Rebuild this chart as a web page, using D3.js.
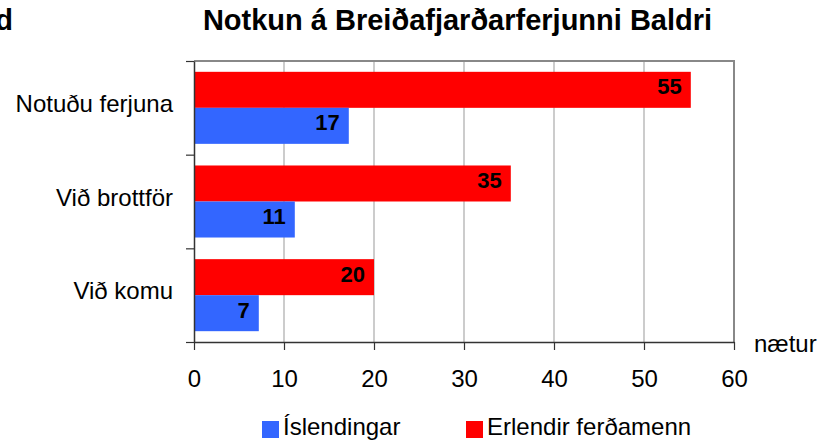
<!DOCTYPE html>
<html>
<head>
<meta charset="utf-8">
<script src="https://cdn.jsdelivr.net/npm/d3@7/dist/d3.min.js"></script>
<style>
  html, body { margin: 0; padding: 0; background: #fff; }
  svg { display: block; }
  text { font-family: "Liberation Sans", Arial, sans-serif; fill: #000; }
</style>
</head>
<body>
<svg id="chart" width="819" height="441"></svg>
<script>
const categories = ["Notuðu ferjuna", "Við brottför", "Við komu"];
const seriesNames = ["Erlendir ferðamenn", "Íslendingar"];
const erlendir = [55.2, 35.2, 20.0];
const islendingar = [17.2, 11.2, 7.2];
const xTicks = [0, 10, 20, 30, 40, 50, 60];
const titleText = "Notkun á Breiðafjarðarferjunni Baldri";
const unitLabel = "nætur";
const colors = { "Erlendir ferðamenn": "#FF0000", "Íslendingar": "#3366FF" };

const values = { "Erlendir ferðamenn": erlendir, "Íslendingar": islendingar };
const fmt = d3.format(".0f");

const svg = d3.select("#chart");
const L = 194, R = 734, T = 61, B = 342;

const x = d3.scaleLinear().domain([0, 60]).range([L, R]);
const y0 = d3.scaleBand().domain(categories).range([T, B]).paddingInner(0.231).paddingOuter(0.1155);
const y1 = d3.scaleBand().domain(seriesNames).range([0, y0.bandwidth()]);

// cut-off left text and title
svg.append("text").attr("x", 13).attr("y", 30).attr("text-anchor", "end")
  .attr("font-size", 29).attr("font-weight", "bold").text("d");
svg.append("text").attr("x", 457.5).attr("y", 30).attr("text-anchor", "middle")
  .attr("font-size", 29).attr("font-weight", "bold").text(titleText);

// gridlines
svg.append("g").selectAll("line").data(xTicks.filter(d => d > 0 && d < 60)).join("line")
  .attr("x1", d => x(d)).attr("x2", d => x(d)).attr("y1", T).attr("y2", B)
  .attr("stroke", "#999").attr("stroke-width", 1);

// plot border top/right
svg.append("path").attr("d", `M${L},${T}H${R}V${B}`).attr("fill", "none")
  .attr("stroke", "#888").attr("stroke-width", 2);

// bars
const groups = svg.append("g").selectAll("g").data(categories).join("g")
  .attr("transform", d => `translate(0,${y0(d)})`);
groups.selectAll("rect").data((c, i) => seriesNames.map(s => ({ s, v: values[s][i] })))
  .join("rect")
  .attr("x", x(0)).attr("y", d => y1(d.s))
  .attr("width", d => x(d.v) - x(0)).attr("height", y1.bandwidth())
  .attr("fill", d => colors[d.s]);
groups.selectAll("text").data((c, i) => seriesNames.map(s => ({ s, v: values[s][i] })))
  .join("text")
  .attr("x", d => x(d.v) - 9).attr("y", d => y1(d.s) + y1.bandwidth() / 2 + 4.5)
  .attr("text-anchor", "end").attr("font-size", 22).attr("font-weight", "bold")
  .text(d => fmt(d.v));

// x axis
const xAxis = svg.append("g").attr("transform", `translate(0,${B})`)
  .call(d3.axisBottom(x).tickValues(xTicks).tickSize(8).tickSizeOuter(0));
xAxis.select(".domain").attr("stroke", "#333").attr("stroke-width", 1.5);
xAxis.selectAll(".tick line").attr("stroke", "#333").attr("stroke-width", 1.2);
xAxis.selectAll(".tick text").attr("y", 45).attr("dy", null)
  .attr("font-size", 24).attr("font-family", "Liberation Sans, Arial, sans-serif").attr("fill", "#000");

// y axis (ticks at category boundaries)
const yb = d3.scaleLinear().domain([0, categories.length]).range([B, T]);
const yAxis = svg.append("g").attr("transform", `translate(${L},0)`)
  .call(d3.axisLeft(yb).ticks(categories.length).tickFormat("").tickSize(8).tickSizeOuter(0));
yAxis.select(".domain").attr("stroke", "#333").attr("stroke-width", 1.5);
yAxis.selectAll(".tick line").attr("stroke", "#333").attr("stroke-width", 1.2);

// category labels
svg.append("g").selectAll("text").data(categories).join("text")
  .attr("x", 173).attr("y", d => y0(d) + y0.bandwidth() / 2 + 4.3)
  .attr("text-anchor", "end").attr("font-size", 24).text(d => d);

// unit label
svg.append("text").attr("x", 754).attr("y", 352).attr("font-size", 24).text(unitLabel);

// legend
const legendItems = [
  { name: "Íslendingar", x: 262 },
  { name: "Erlendir ferðamenn", x: 466 }
];
const lg = svg.append("g").selectAll("g").data(legendItems).join("g")
  .attr("transform", d => `translate(${d.x},421)`);
lg.append("rect").attr("width", 17).attr("height", 17).attr("fill", d => colors[d.name]);
lg.append("text").attr("x", 21).attr("y", 14).attr("font-size", 24).text(d => d.name);
</script>
</body>
</html>
